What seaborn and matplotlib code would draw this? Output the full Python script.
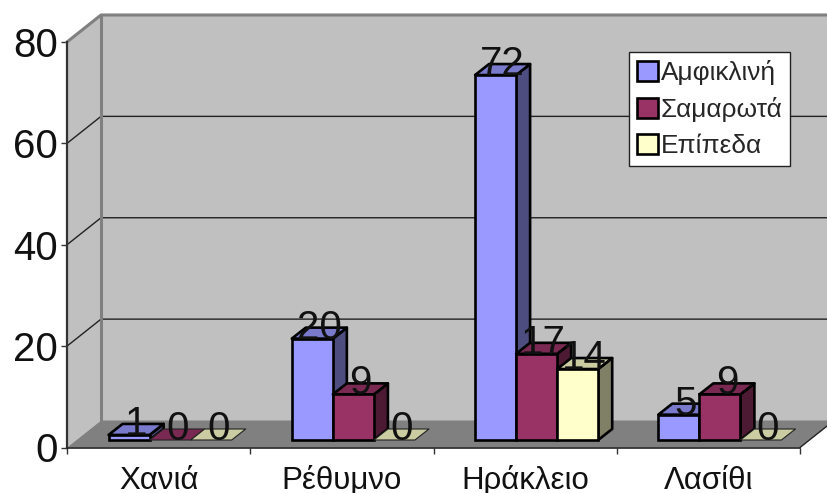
import matplotlib
matplotlib.use("Agg")
import matplotlib.pyplot as plt
import pandas as pd
import seaborn as sns
from matplotlib.colors import to_rgb
from matplotlib.patches import Polygon

regions = ["Χανιά", "Ρέθυμνο", "Ηράκλειο", "Λασίθι"]
amfiklini = [1, 20, 72, 5]
samarota = [0, 9, 17, 9]
epipeda = [0, 0, 14, 0]
y_ticks = [0, 20, 40, 60, 80]

W, H = 827, 493
LEFT, RIGHT, TOP, BOTTOM = 67, 800, 42, 447.5
# depth of the chart box and of the bars, pixels
WALL_DX, WALL_DY = 34, 27
BAR_DX, BAR_DY = 14, 11
# where the bars stand on the floor, relative to the front edge
SHIFT_X, SHIFT_Y = 11.5, 7.5

FONT = "Liberation Sans"
COLORS = {"Αμφικλινή": "#9999FF", "Σαμαρωτά": "#993366", "Επίπεδα": "#FFFFCC"}

sns.set_style("white")
plt.rcParams["font.family"] = [FONT, "DejaVu Sans"]

df = pd.DataFrame({
    "region": regions * 3,
    "type": ["Αμφικλινή"] * 4 + ["Σαμαρωτά"] * 4 + ["Επίπεδα"] * 4,
    "count": amfiklini + samarota + epipeda,
})


def shade(color, k):
    return tuple(c * k for c in to_rgb(color))


fig = plt.figure(figsize=(W / 100, H / 100), dpi=100, facecolor="white")
ax = fig.add_axes([LEFT / W, 1 - BOTTOM / H, (RIGHT - LEFT) / W, (BOTTOM - TOP) / H])
bars_ax = fig.add_axes([(LEFT + SHIFT_X) / W, 1 - (BOTTOM - SHIFT_Y) / H,
                        (RIGHT - LEFT) / W, (BOTTOM - TOP) / H])

x0, x1 = -0.5, len(regions) - 0.5
px_x = (x1 - x0) / (RIGHT - LEFT)
px_y = y_ticks[-1] / (BOTTOM - TOP)
wx, wy = WALL_DX * px_x, WALL_DY * px_y
bx, by = BAR_DX * px_x, BAR_DY * px_y

# box: walls, floor and grid
ax.set_xlim(x0, x1)
ax.set_ylim(0, y_ticks[-1])
ax.patch.set_alpha(0)
for s in ["top", "right"]:
    ax.spines[s].set_visible(False)
ax.spines["left"].set_color("#333333")
ax.spines["left"].set_linewidth(1.6)
ax.spines["bottom"].set_color("#222222")
ax.spines["bottom"].set_linewidth(1.2)

y_max = y_ticks[-1]
ax.add_patch(Polygon([(x0 + wx, wy), (x1 + wx, wy), (x1 + wx, y_max + wy), (x0 + wx, y_max + wy)],
                     fc="#C0C0C0", ec="none", clip_on=False, zorder=0))
ax.add_patch(Polygon([(x0, 0), (x0 + wx, wy), (x0 + wx, y_max + wy), (x0, y_max)],
                     fc="#C0C0C0", ec="none", clip_on=False, zorder=0))
ax.add_patch(Polygon([(x0, 0), (x1, 0), (x1 + wx, wy), (x0 + wx, wy)],
                     fc="#808080", ec="none", clip_on=False, zorder=0.5))
for v in y_ticks[1:-1]:
    ax.plot([x0, x0 + wx, x1 + wx], [v, v + wy, v + wy], color="#222222", lw=1,
            clip_on=False, zorder=1)
ax.plot([x0, x0 + wx, x1 + wx], [y_max, y_max + wy, y_max + wy], color="#808080", lw=2.2,
        clip_on=False, zorder=1)
ax.plot([x0 + wx, x0 + wx], [wy, y_max + wy], color="#808080", lw=2.2, clip_on=False, zorder=1)
ax.plot([x1, x1 + wx], [0, wy], color="#222222", lw=1, clip_on=False, zorder=1)

ax.set_yticks(y_ticks)
ax.set_yticklabels([str(v) for v in y_ticks], fontsize=29, color="#111111")
ax.set_xticks([x0 + i for i in range(len(regions) + 1)])
ax.set_xticklabels([])
ax.tick_params(axis="both", which="both", length=4.5, width=1, color="#333333",
               left=True, bottom=True, pad=2)
for i, name in enumerate(regions):
    # same as the original, the descenders run into the bottom edge
    ax.text(i, -8.2, name, ha="center", va="baseline", fontsize=22.5, color="#111111")

# bars
sns.barplot(data=df, x="region", y="count", hue="type", order=regions, hue_order=list(COLORS),
            palette=COLORS, saturation=1, width=0.672, gap=0, edgecolor="black", linewidth=1.9,
            ax=bars_ax)
handles, labels = bars_ax.get_legend_handles_labels()
bars_ax.get_legend().remove()
bars_ax.set_xlim(x0, x1)
bars_ax.set_ylim(0, y_max)
bars_ax.axis("off")

for j, container in enumerate(bars_ax.containers):
    color = list(COLORS.values())[j]
    for i, bar in enumerate(container):
        x, w, h = bar.get_x(), bar.get_width(), bar.get_height()
        z = 10 * i + j + 2
        lw = 1.9 if h > 0 else 0.8
        bar.set_zorder(z + 0.2)
        bar.set_clip_on(False)
        if h == 0:
            bar.set_visible(False)
        else:
            bars_ax.add_patch(Polygon([(x + w, 0), (x + w + bx, by), (x + w + bx, h + by), (x + w, h)],
                                      fc=shade(color, 0.5), ec="black", lw=lw, clip_on=False,
                                      joinstyle="round", zorder=z))
        bars_ax.add_patch(Polygon([(x, h), (x + w, h), (x + w + bx, h + by), (x + bx, h + by)],
                                  fc=shade(color, 0.8), ec="#222222" if h == 0 else "black", lw=lw,
                                  clip_on=False, joinstyle="round", zorder=z))
        bars_ax.text(x + w / 2 + bx / 2, h, str(int(h)), ha="center", va="baseline",
                     fontsize=29, color="#111111", zorder=100)

leg = fig.legend(handles, labels, loc="upper left",
                 bbox_to_anchor=(629 / W, 1 - 52 / H), frameon=True, fancybox=False,
                 framealpha=1, facecolor="white", edgecolor="#222222",
                 prop={"family": FONT, "size": 18.9}, handlelength=0.8, handleheight=0.8,
                 handletextpad=0.1, labelspacing=0.45, borderpad=0.3, borderaxespad=0)
leg.get_frame().set_linewidth(1)

fig.savefig("out.png", dpi=100)
